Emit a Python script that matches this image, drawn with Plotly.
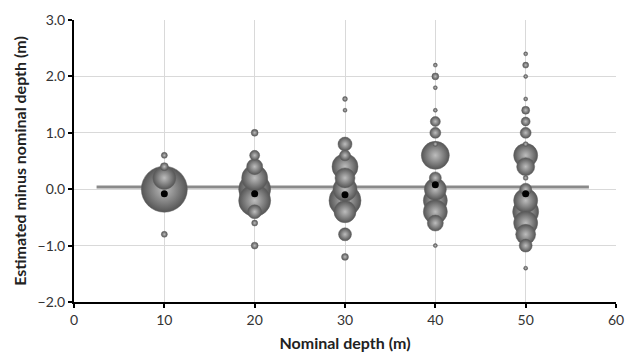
import plotly.graph_objects as go

# Nominal depths (m)
depths = [10, 20, 30, 40, 50]

# Estimated minus nominal depth bins (m) and relative frequencies (%) per nominal depth
diff_10 = [0.6, 0.4, 0.2, 0.0, -0.8]
freq_10 = [0.9, 1.6, 13.2, 52.9, 0.9]

diff_20 = [1.0, 0.6, 0.4, 0.2, 0.0, -0.2, -0.4, -0.6, -1.0]
freq_20 = [1.2, 2.5, 6.4, 16.9, 25.6, 25.6, 4.9, 0.9, 1.2]

diff_30 = [1.6, 1.4, 0.8, 0.6, 0.4, 0.2, 0.0, -0.2, -0.4, -0.8, -1.2]
freq_30 = [0.6, 0.4, 4.9, 3.0, 16.9, 10.0, 14.4, 25.6, 12.1, 4.2, 1.2]

diff_40 = [2.2, 2.0, 1.8, 1.4, 1.2, 1.0, 0.8, 0.6, 0.2, 0.0, -0.2, -0.4, -0.6, -1.0]
freq_40 = [0.2, 1.2, 0.2, 0.4, 2.5, 3.0, 0.6, 19.6, 3.6, 12.1, 14.4, 14.4, 6.4, 0.4]

diff_50 = [2.4, 2.2, 2.0, 1.6, 1.4, 1.2, 1.0, 0.8, 0.6, 0.4, 0.2, 0.0, -0.2, -0.4, -0.6, -0.8, -1.0, -1.4]
freq_50 = [0.4, 0.9, 0.2, 0.2, 1.6, 2.0, 3.0, 0.6, 14.4, 8.1, 0.6, 3.6, 14.4, 16.9, 14.4, 10.0, 4.2, 0.2]

# Mean difference per nominal depth
mean_diff = [-0.08, -0.08, -0.1, 0.08, -0.08]

# Reference line
ref_x = [2.5, 57]
ref_y = [0.04, 0.04]

diffs = [diff_10, diff_20, diff_30, diff_40, diff_50]
freqs = [freq_10, freq_20, freq_30, freq_40, freq_50]

# Flatten and sort (largest drawn first so small bubbles appear on top)
pts = []
for d, ys, fs in zip(depths, diffs, freqs):
    for y, f in zip(ys, fs):
        pts.append((f, d, y))
pts.sort(key=lambda t: -t[0])
bx = [p[1] for p in pts]
by = [p[2] for p in pts]
bs = [p[0] for p in pts]

fig = go.Figure()

fig.add_trace(go.Scatter(
    x=ref_x, y=ref_y, mode="lines",
    line=dict(color="#8a8a8a", width=3),
    hoverinfo="skip", showlegend=False,
))

fig.add_trace(go.Scatter(
    x=bx, y=by, mode="markers",
    marker=dict(
        size=bs, sizemode="area", sizeref=0.05, sizemin=2,
        color="#555555",
        gradient=dict(type="radial", color="#bdbdbd"),
        line=dict(color="#606060", width=0.5),
        opacity=1,
    ),
    showlegend=False,
))

fig.add_trace(go.Scatter(
    x=depths, y=mean_diff, mode="markers",
    marker=dict(size=7, color="black"),
    showlegend=False,
))

axis_font = dict(family="Lato, 'Open Sans', sans-serif", size=14, color="#333333")
title_font = dict(family="Lato, 'Open Sans', sans-serif", size=16, color="#222222")

fig.update_layout(
    width=626, height=355,
    margin=dict(l=74, r=10, t=20, b=53),
    paper_bgcolor="white", plot_bgcolor="white",
    font=axis_font,
    xaxis=dict(
        range=[0, 60], dtick=10, tick0=0, automargin=False,
        showgrid=True, gridcolor="#d9d9d9", gridwidth=1,
        zeroline=False,
        showline=True, linecolor="black", linewidth=2,
        ticks="outside", ticklen=4, tickwidth=2, tickcolor="black",
        tickfont=axis_font,
        title=dict(text="<b>Nominal depth (m)</b>", font=title_font, standoff=11),
    ),
    yaxis=dict(
        range=[-2, 3], dtick=1, tick0=0, tickformat=".1f", automargin=False,
        showgrid=True, gridcolor="#d9d9d9", gridwidth=1,
        zeroline=False,
        showline=True, linecolor="black", linewidth=2,
        ticks="outside", ticklen=4, tickwidth=2, tickcolor="black",
        tickfont=axis_font,
        title=dict(text="<b>Estimated minus nominal depth (m)</b>", font=title_font, standoff=7),
    ),
)

fig.write_html(
    "out.html",
    config={"displayModeBar": False},
    post_script="document.body.style.margin='0px';document.body.style.overflow='hidden';",
)
